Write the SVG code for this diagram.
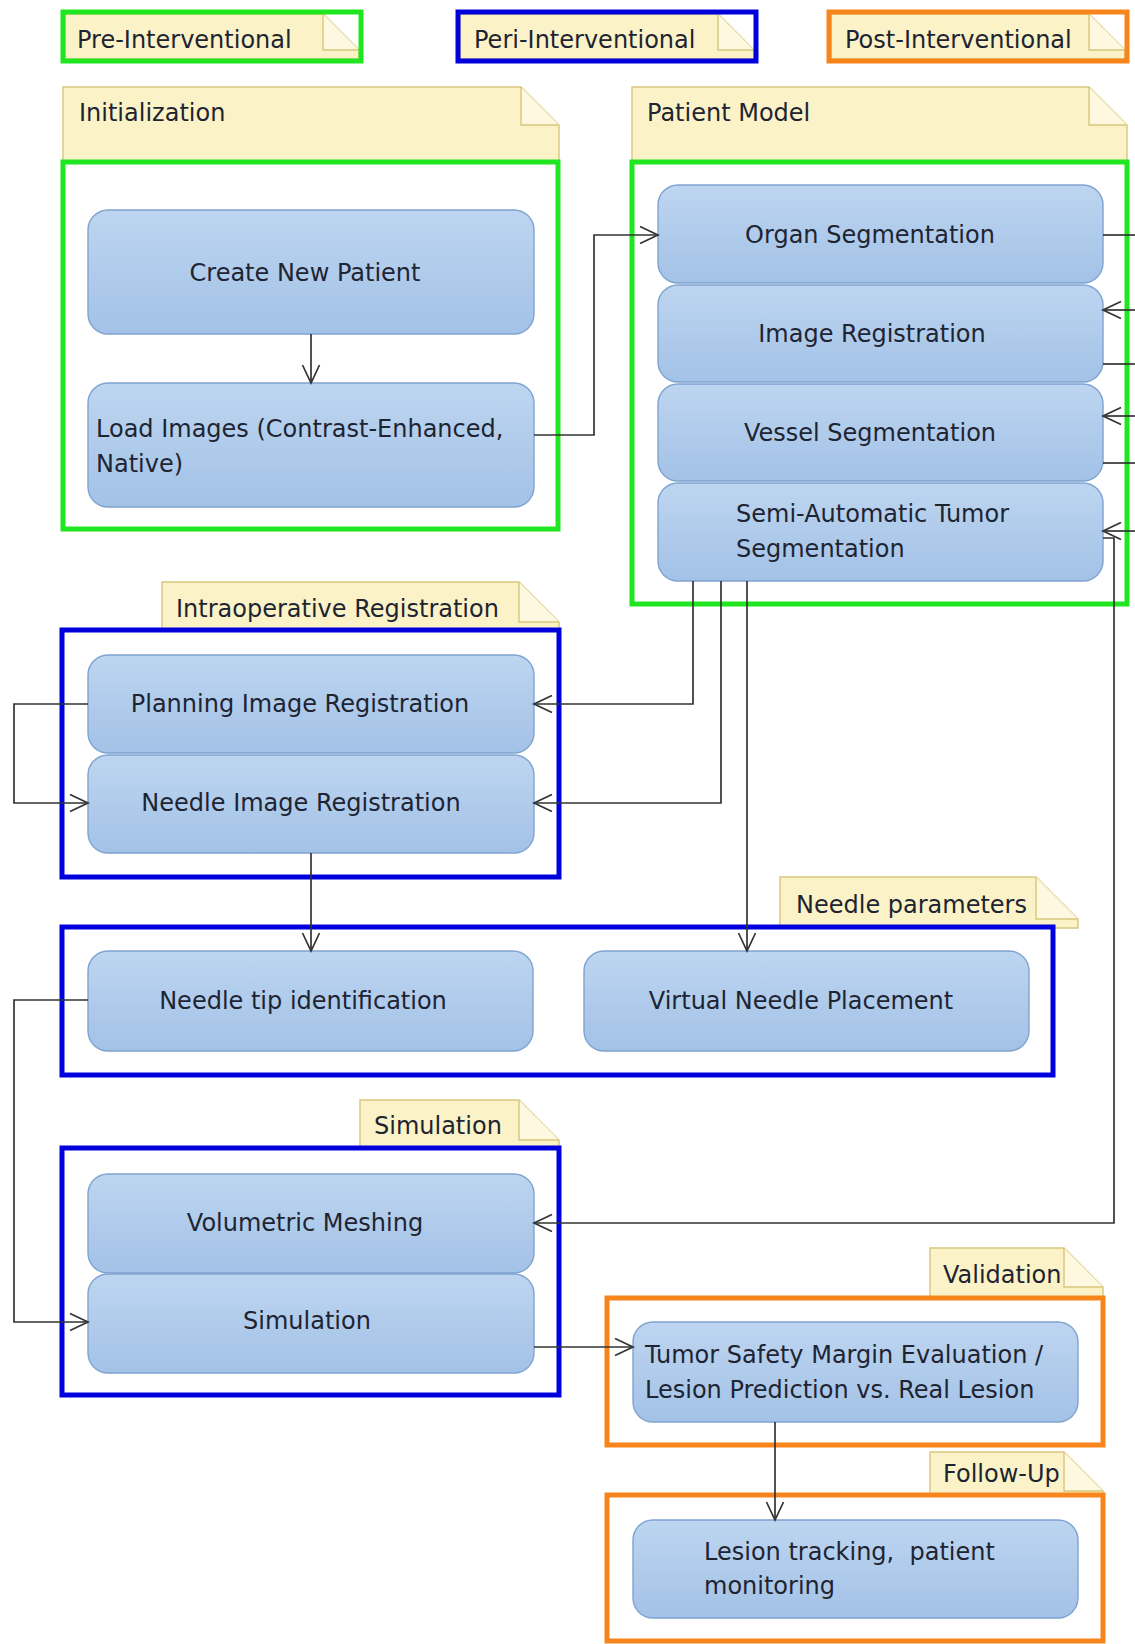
<svg xmlns="http://www.w3.org/2000/svg" width="1135" height="1644" viewBox="0 0 1135 1644">
<defs>
<linearGradient id="ng" x1="0" y1="0" x2="0" y2="1">
<stop offset="0" stop-color="#bdd5f0"/>
<stop offset="1" stop-color="#a3c2e7"/>
</linearGradient>
<marker id="arr" markerUnits="userSpaceOnUse" markerWidth="22" markerHeight="22" refX="19" refY="10" orient="auto">
<path d="M1,1.5 L19,10 L1,18.5" fill="none" stroke="#333" stroke-width="1.7"/>
</marker>
<style>
.node rect{fill:url(#ng);stroke:#7fa3d0;stroke-width:1.4}
text{font-family:'DejaVu Sans',Verdana,sans-serif;font-size:24px;fill:#1e2431}
.mid{text-anchor:middle}
.nb{fill:#fbf3c7;stroke:#d8c67c;stroke-width:1.4}
.nf{fill:#fdf8df;stroke:#d8c67c;stroke-width:1.4}
.box{fill:none;stroke-width:5}
.gr{stroke:#1fe61f}
.bl{stroke:#0000dc}
.or{stroke:#f7851c}
.conn path{fill:none;stroke:#333;stroke-width:1.7}
.ar{marker-end:url(#arr)}
</style>
</defs>
<rect width="1135" height="1644" fill="#fff"/>

<!-- legend notes -->
<g id="legend-pre">
<path class="nb" d="M65,14 H323 L359,50 V59 H65 Z"/>
<path class="nf" d="M323,14 V50 H359"/>
<rect class="box gr" x="63" y="12" width="298" height="49"/>
<text x="77" y="48">Pre-Interventional</text>
</g>
<g id="legend-peri">
<path class="nb" d="M460,14 H718 L754,50 V59 H460 Z"/>
<path class="nf" d="M718,14 V50 H754"/>
<rect class="box bl" x="458" y="12" width="298" height="49"/>
<text x="474" y="48">Peri-Interventional</text>
</g>
<g id="legend-post">
<path class="nb" d="M831,14 H1089 L1125,50 V59 H831 Z"/>
<path class="nf" d="M1089,14 V50 H1125"/>
<rect class="box or" x="829" y="12" width="298" height="49"/>
<text x="845" y="48">Post-Interventional</text>
</g>

<!-- section notes -->
<g id="note-initialization">
<path class="nb" d="M63,87 H521 L559,125 V162 H63 Z"/>
<path class="nf" d="M521,87 V125 H559"/>
<text x="79" y="121">Initialization</text>
</g>
<g id="note-patient-model">
<path class="nb" d="M632,87 H1089 L1127,125 V162 H632 Z"/>
<path class="nf" d="M1089,87 V125 H1127"/>
<text x="647" y="121">Patient Model</text>
</g>
<g id="note-intraop">
<path class="nb" d="M162,582 H519 L559,622 V630 H162 Z"/>
<path class="nf" d="M519,582 V622 H559"/>
<text x="176" y="617">Intraoperative Registration</text>
</g>
<g id="note-needle-params">
<path class="nb" d="M780,877 H1036 L1078,919 V928 H780 Z"/>
<path class="nf" d="M1036,877 V919 H1078"/>
<text x="796" y="913">Needle parameters</text>
</g>
<g id="note-simulation">
<path class="nb" d="M360,1100 H519 L559,1140 V1148 H360 Z"/>
<path class="nf" d="M519,1100 V1140 H559"/>
<text x="374" y="1134">Simulation</text>
</g>
<g id="note-validation">
<path class="nb" d="M930,1248 H1064 L1103,1287 V1298 H930 Z"/>
<path class="nf" d="M1064,1248 V1287 H1103"/>
<text x="943" y="1283">Validation</text>
</g>
<g id="note-followup">
<path class="nb" d="M930,1452 H1064 L1103,1491 V1495 H930 Z"/>
<path class="nf" d="M1064,1452 V1491 H1103"/>
<text x="943" y="1482">Follow-Up</text>
</g>

<!-- phase boxes -->
<g id="boxes">
<rect class="box gr" x="63" y="162" width="495" height="367"/>
<rect class="box gr" x="632" y="162" width="495" height="442"/>
<rect class="box bl" x="62" y="630" width="497" height="247"/>
<rect class="box bl" x="62" y="927" width="991" height="148"/>
<rect class="box bl" x="62" y="1148" width="497" height="247"/>
<rect class="box or" x="607" y="1298" width="496" height="147"/>
<rect class="box or" x="607" y="1495" width="496" height="146"/>
</g>

<!-- activity nodes -->
<g id="n-create" class="node"><rect x="88" y="210" width="446" height="124" rx="20"/><text class="mid" x="305" y="281">Create New Patient</text></g>
<g id="n-load" class="node"><rect x="88" y="383" width="446" height="124" rx="20"/><text x="96" y="437">Load Images (Contrast-Enhanced,</text><text x="96" y="472">Native)</text></g>
<g id="n-organ" class="node"><rect x="658" y="185" width="445" height="98" rx="20"/><text class="mid" x="870" y="243">Organ Segmentation</text></g>
<g id="n-imgreg" class="node"><rect x="658" y="285" width="445" height="97" rx="20"/><text class="mid" x="872" y="342">Image Registration</text></g>
<g id="n-vessel" class="node"><rect x="658" y="384" width="445" height="97" rx="20"/><text class="mid" x="870" y="441">Vessel Segmentation</text></g>
<g id="n-tumor" class="node"><rect x="658" y="483" width="445" height="98" rx="20"/><text x="736" y="522">Semi-Automatic Tumor</text><text x="736" y="557">Segmentation</text></g>
<g id="n-planreg" class="node"><rect x="88" y="655" width="446" height="98" rx="20"/><text class="mid" x="300" y="712">Planning Image Registration</text></g>
<g id="n-needlereg" class="node"><rect x="88" y="755" width="446" height="98" rx="20"/><text class="mid" x="301" y="811">Needle Image Registration</text></g>
<g id="n-tip" class="node"><rect x="88" y="951" width="445" height="100" rx="20"/><text class="mid" x="303" y="1009">Needle tip identification</text></g>
<g id="n-virtual" class="node"><rect x="584" y="951" width="445" height="100" rx="20"/><text class="mid" x="801" y="1009">Virtual Needle Placement</text></g>
<g id="n-mesh" class="node"><rect x="88" y="1174" width="446" height="99" rx="20"/><text class="mid" x="305" y="1231">Volumetric Meshing</text></g>
<g id="n-sim" class="node"><rect x="88" y="1274" width="446" height="99" rx="20"/><text class="mid" x="307" y="1329">Simulation</text></g>
<g id="n-margin" class="node"><rect x="633" y="1322" width="445" height="100" rx="20"/><text x="645" y="1363">Tumor Safety Margin Evaluation /</text><text x="645" y="1398">Lesion Prediction vs. Real Lesion</text></g>
<g id="n-followup" class="node"><rect x="633" y="1520" width="445" height="98" rx="20"/><text x="704" y="1560" xml:space="preserve" style="white-space:pre">Lesion tracking,  patient</text><text x="704" y="1594">monitoring</text></g>

<!-- connectors -->
<g id="connectors" class="conn">
<path class="ar" d="M311,334 V383"/>
<path class="ar" d="M534,435 H594 V235 H658"/>
<path d="M1103,235 H1135"/>
<path class="ar" d="M1135,310 H1103"/>
<path d="M1103,364 H1135"/>
<path class="ar" d="M1135,416 H1103"/>
<path d="M1103,463 H1135"/>
<path class="ar" d="M1135,531 H1103"/>
<path class="ar" d="M1103,538 H1114 V1223 H534"/>
<path class="ar" d="M693,581 V704 H534"/>
<path class="ar" d="M721,581 V803 H534"/>
<path class="ar" d="M747,581 V951"/>
<path class="ar" d="M88,704 H14 V803 H88"/>
<path class="ar" d="M311,853 V951"/>
<path class="ar" d="M88,1000 H14 V1322 H88"/>
<path class="ar" d="M534,1347 H633"/>
<path class="ar" d="M775,1422 V1520"/>
</g>
</svg>
